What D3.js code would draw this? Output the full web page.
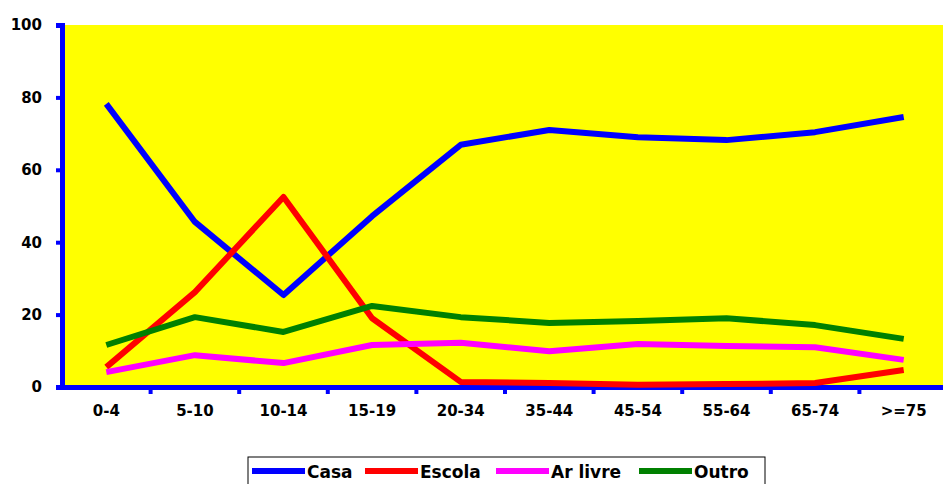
<!DOCTYPE html><html><head><script src="https://cdn.jsdelivr.net/npm/d3@7"></script>
<style>body{margin:0;background:#fff}text{font-family:Verdana,"DejaVu Sans",sans-serif;font-weight:bold;font-size:15px}</style></head><body>
<svg id="c" width="943" height="484"></svg>
<script>
const categories=["0-4","5-10","10-14","15-19","20-34","35-44","45-54","55-64","65-74",">=75"];
const casa=[78.2,45.6,25.4,47.2,66.9,71,69,68.2,70.4,74.6];
const escola=[5.5,26.2,52.5,19,1.4,1.1,0.6,0.8,1.1,4.7];
const arlivre=[4.1,8.8,6.6,11.6,12.2,9.9,11.9,11.3,11,7.5];
const outro=[11.6,19.3,15.2,22.4,19.3,17.7,18.2,19,17.1,13.3];
const yTicks=[0,20,40,60,80,100];
const series=[{name:"Casa",v:casa,c:"#0000ff"},{name:"Escola",v:escola,c:"#ff0000"},{name:"Ar livre",v:arlivre,c:"#ff00ff"},{name:"Outro",v:outro,c:"#008000"}];
const svg=d3.select("#c");
const L=62,R=948,T=25,B=387;
const x=d3.scaleBand().domain(categories).range([L,R]);
const y=d3.scaleLinear().domain([0,100]).range([B,T]);
svg.append("rect").attr("x",L).attr("y",T).attr("width",943-L).attr("height",B-T).attr("fill","#ffff00");
const ya=svg.append("g").attr("transform",`translate(${L},0)`).call(d3.axisLeft(y).tickValues(yTicks).tickSize(6).tickPadding(8));
const xa=svg.append("g").attr("transform",`translate(0,${B})`).call(d3.axisBottom(x).tickSize(0).tickPadding(18));
svg.append("g").selectAll("line").data(categories.slice(1)).join("line")
 .attr("x1",d=>x(d)).attr("x2",d=>x(d)).attr("y1",B).attr("y2",B+7).attr("stroke","#0000ff").attr("stroke-width",4);
svg.selectAll(".domain").attr("stroke","#0000ff").attr("stroke-width",5);
ya.selectAll(".tick line").attr("stroke","#0000ff").attr("stroke-width",4);
svg.selectAll(".tick text").attr("fill","#000").style("font-size","15px");
ya.selectAll(".tick text").attr("x",-20);
const line=d3.line().x((d,i)=>x(categories[i])+x.bandwidth()/2).y(d=>y(d));
series.forEach(s=>svg.append("path").attr("d",line(s.v)).attr("fill","none").attr("stroke",s.c).attr("stroke-width",6).attr("stroke-linejoin","round"));
const lg=svg.append("g");
lg.append("rect").attr("x",248).attr("y",457).attr("width",517).attr("height",40).attr("fill","#fff").attr("stroke","#000").attr("stroke-width",1);
const lx=[252,365,496,639];
series.forEach((s,i)=>{lg.append("line").attr("x1",lx[i]).attr("x2",lx[i]+53).attr("y1",471).attr("y2",471).attr("stroke",s.c).attr("stroke-width",6);
 lg.append("text").attr("x",lx[i]+55).attr("y",478).style("font-size","17px").text(s.name);});
</script></body></html>
